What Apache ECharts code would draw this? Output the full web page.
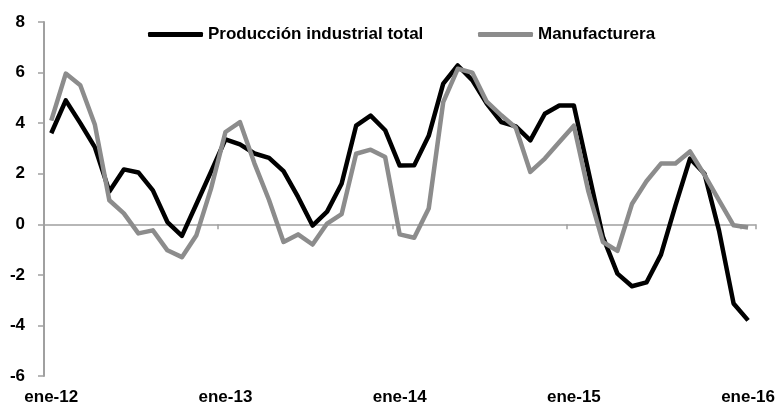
<!DOCTYPE html>
<html>
<head>
<meta charset="utf-8">
<script src="https://cdn.jsdelivr.net/npm/echarts@6/dist/echarts.min.js"></script>
<style>
html,body{margin:0;padding:0;background:#fff;}
#chart{width:778px;height:412px;}
</style>
</head>
<body>
<div id="chart"></div>
<script>
var categories = [
  'ene-12','feb-12','mar-12','abr-12','may-12','jun-12','jul-12','ago-12','sep-12','oct-12','nov-12','dic-12',
  'ene-13','feb-13','mar-13','abr-13','may-13','jun-13','jul-13','ago-13','sep-13','oct-13','nov-13','dic-13',
  'ene-14','feb-14','mar-14','abr-14','may-14','jun-14','jul-14','ago-14','sep-14','oct-14','nov-14','dic-14',
  'ene-15','feb-15','mar-15','abr-15','may-15','jun-15','jul-15','ago-15','sep-15','oct-15','nov-15','dic-15',
  'ene-16'
];
var produccionTotal = [
  3.6, 4.9, 4.0, 3.05, 1.3, 2.17, 2.05, 1.34, 0.09, -0.46, 0.8, 2.07,
  3.36, 3.16, 2.8, 2.63, 2.1, 1.08, -0.05, 0.5, 1.6, 3.9, 4.3, 3.72,
  2.32, 2.33, 3.5, 5.56, 6.28, 5.7, 4.77, 4.04, 3.87, 3.32, 4.37, 4.7,
  4.7, 2.1, -0.5, -1.95, -2.45, -2.3, -1.2, 0.75, 2.6, 2.0, -0.25, -3.13,
  -3.8
];
var manufacturera = [
  4.1, 5.96, 5.5, 3.95, 0.95, 0.43, -0.36, -0.24, -1.03, -1.3, -0.43, 1.4,
  3.65, 4.04, 2.4, 0.96, -0.7, -0.4, -0.8, 0.03, 0.4, 2.79, 2.95, 2.66,
  -0.4, -0.53, 0.62, 4.83, 6.15, 6.0, 4.85, 4.31, 3.82, 2.07, 2.6, 3.25,
  3.9, 1.3, -0.7, -1.05, 0.8, 1.7, 2.4, 2.4, 2.88, 1.95, 0.95, -0.04,
  -0.13
];
var seriesNames = ['Producción industrial total', 'Manufacturera'];
var yTicks = { min: -6, max: 8, interval: 2 };

var chart = echarts.init(document.getElementById('chart'), null, { renderer: 'canvas' });
var fontFam = '"Liberation Sans", Arial, sans-serif';
var axisGray = '#a0a0a0';
function legendAt(name, left) {
  return {
    data: [name], left: left, top: 26, padding: 0,
    icon: 'roundRect', itemWidth: 55, itemHeight: 5, itemGap: 4,
    textStyle: { fontFamily: fontFam, fontWeight: 'bold', fontSize: 17, color: '#000' }
  };
}
var option = {
  animation: false,
  backgroundColor: '#ffffff',
  grid: { left: 44, right: 22, top: 22, bottom: 36, containLabel: false },
  legend: [ legendAt(seriesNames[0], 148), legendAt(seriesNames[1], 478) ],
  xAxis: [
    {
      type: 'category', data: categories, position: 'bottom', boundaryGap: true,
      axisLine: { show: false, onZero: false },
      axisTick: { show: false },
      axisLabel: { interval: 11, margin: 13, fontFamily: fontFam, fontWeight: 'bold', fontSize: 17, color: '#000' },
      splitLine: { show: false }
    },
    {
      type: 'category', data: categories, position: 'top', boundaryGap: true,
      axisLine: { show: true, onZero: true, lineStyle: { color: axisGray, width: 1.5 } },
      axisTick: { show: true, interval: 11, inside: true, length: 5, lineStyle: { color: axisGray, width: 1.5 } },
      axisLabel: { show: false },
      splitLine: { show: false }
    }
  ],
  yAxis: {
    type: 'value', min: yTicks.min, max: yTicks.max, interval: yTicks.interval,
    axisLine: { show: true, lineStyle: { color: axisGray, width: 2 } },
    axisTick: { show: true, length: 6, lineStyle: { color: axisGray, width: 1.5 } },
    axisLabel: { margin: 19, fontFamily: fontFam, fontWeight: 'bold', fontSize: 17, color: '#000' },
    splitLine: { show: false }
  },
  series: [
    {
      name: seriesNames[0], type: 'line', data: produccionTotal, xAxisIndex: 0,
      symbol: 'none', showSymbol: false,
      itemStyle: { color: '#000000' },
      lineStyle: { color: '#000000', width: 4.5, join: 'round' }
    },
    {
      name: seriesNames[1], type: 'line', data: manufacturera, xAxisIndex: 0,
      symbol: 'none', showSymbol: false,
      itemStyle: { color: '#8c8c8c' },
      lineStyle: { color: '#8c8c8c', width: 4.5, join: 'round' }
    }
  ]
};
chart.setOption(option);
</script>
</body>
</html>
